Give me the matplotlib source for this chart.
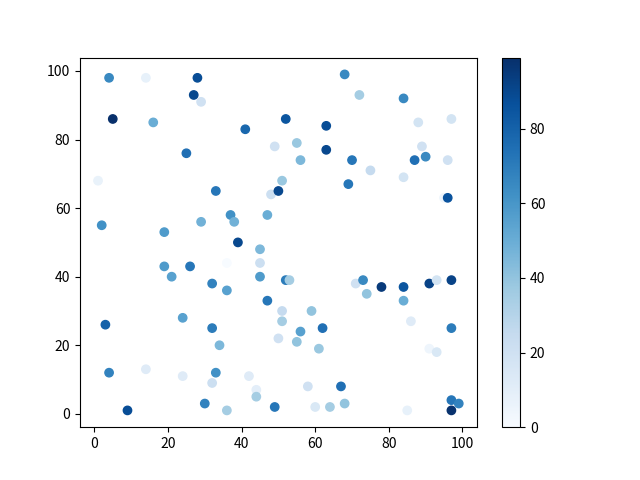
import matplotlib
matplotlib.use('Agg')
import matplotlib.pyplot as plt

plt.rcParams['font.family'] = ['Noto Sans CJK SC', 'DejaVu Sans']

# point positions
x = [4, 14, 28, 27, 29, 5, 16, 41, 49, 25,
     1, 33, 48, 50, 51, 2, 19, 29, 37, 38,
     47, 39, 45,
     68, 72, 84, 52, 63, 88, 97, 55, 63, 56,
     70, 89, 90, 87, 96, 75, 84, 69, 95, 96,
     45, 36, 19, 26, 21, 45, 32, 36, 47, 51,
     51, 50, 3, 24, 32, 34, 4, 14, 24, 33,
     32, 42, 44, 44, 30, 36, 9, 49,
     52, 53, 59, 56, 62, 55, 61, 71, 73, 74,
     78, 84, 84, 86, 91, 93, 97, 97, 91, 93,
     58, 67, 60, 64, 68, 85, 97, 99, 97]
y = [98, 98, 98, 93, 91, 86, 85, 83, 78, 76,
     68, 65, 64, 65, 68, 55, 53, 56, 58, 56,
     58, 50, 48,
     99, 93, 92, 86, 84, 85, 86, 79, 77, 74,
     74, 78, 75, 74, 74, 71, 69, 67, 63, 63,
     44, 44, 43, 43, 40, 40, 38, 36, 33, 30,
     27, 22, 26, 28, 25, 20, 12, 13, 11, 12,
     9, 11, 7, 5, 3, 1, 1, 2,
     39, 39, 30, 24, 25, 21, 19, 38, 39, 35,
     37, 37, 33, 27, 38, 39, 39, 25, 19, 18,
     8, 8, 2, 2, 3, 1, 4, 3, 1]
# colour values (0..99)
c = [65, 8, 88, 90, 20, 99, 50, 78, 20, 75,
     7, 72, 22, 90, 38, 62, 58, 48, 62, 48,
     50, 90, 45,
     65, 35, 65, 85, 88, 18, 18, 38, 90, 45,
     72, 20, 65, 75, 20, 25, 18, 72, 5, 86,
     22, 0, 58, 72, 55, 58, 68, 55, 72, 25,
     35, 20, 80, 55, 70, 45, 68, 12, 12, 62,
     22, 12, 10, 35, 68, 35, 88, 72,
     70, 35, 40, 55, 75, 40, 38, 20, 65, 40,
     95, 85, 50, 12, 92, 18, 92, 70, 5, 15,
     20, 75, 15, 35, 40, 8, 72, 68, 98]

fig, ax = plt.subplots(figsize=(6.4, 4.8), dpi=100)
sc = ax.scatter(x, y, c=c, cmap='Blues', vmin=0, vmax=99)
fig.colorbar(sc)
fig.savefig('out.png')
